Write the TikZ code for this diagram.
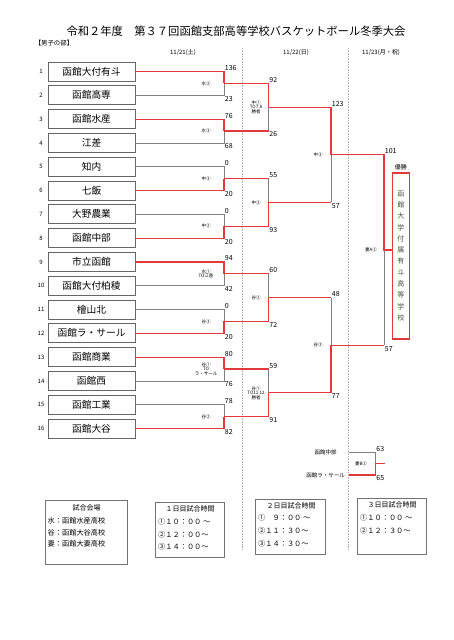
\documentclass[tikz,border=0pt]{standalone}
\usepackage{fontspec}
\setmainfont{Noto Sans CJK JP}
\usepackage{xcolor}
\usepackage{tikz}
\usetikzlibrary{positioning, calc}

\definecolor{winred}{RGB}{226,58,58}
\definecolor{losegray}{RGB}{128,128,128}
\newcommand{\fs}[1]{\fontsize{#1}{#1}\selectfont}

\begin{document}
\begin{tikzpicture}[x=1pt, y=-1pt,
    team/.style={draw=black!60, line width=0.8pt, minimum width=87pt, minimum height=19pt, inner sep=0pt, font=\fs{9.7}},
    seed/.style={font=\fs{6}, inner sep=0pt},
    win/.style={draw=winred, line width=1.2pt},
    lose/.style={draw=losegray, line width=0.7pt},
    score/.style={font=\fs{7}, inner sep=0.7pt},
    gamelbl/.style={font=\fs{4.5}, align=center, inner sep=0pt},
    infobox/.style={draw=black!55, line width=0.8pt, inner sep=0pt},
    infohd/.style={font=\fs{7}, inner sep=0pt},
    info/.style={align=left, inner sep=0pt, anchor=north west}]
  \useasboundingbox (0,0) rectangle (454,640);

  % heading
  \node[font=\fs{11.3}] (title) at (236,31) {令和２年度　第３７回函館支部高等学校バスケットボール冬季大会};
  \node[font=\fs{6.4}] (div) at (54,43) {【男子の部】};
  \node[font=\fs{6}] (day1) at (183,53) {11/21(土)};
  \node[font=\fs{6}] (day2) at (296,53) {11/22(日)};
  \node[font=\fs{6}] (day3) at (381,53) {11/23(月・祝)};
  \draw[densely dotted, black!30, line width=0.6pt] (242,48) -- (242,550);
  \draw[densely dotted, black!30, line width=0.6pt] (348,48) -- (348,550);

  % teams
  \node[team] (t1) at (91.5,71.5) {函館大付有斗};
  \node[team] (t2) at (91.5,95.3) {函館高専};
  \node[team] (t3) at (91.5,119.1) {函館水産};
  \node[team] (t4) at (91.5,142.9) {江差};
  \node[team] (t5) at (91.5,166.7) {知内};
  \node[team] (t6) at (91.5,190.5) {七飯};
  \node[team] (t7) at (91.5,214.3) {大野農業};
  \node[team] (t8) at (91.5,238.1) {函館中部};
  \node[team] (t9) at (91.5,261.9) {市立函館};
  \node[team] (t10) at (91.5,285.7) {函館大付柏稜};
  \node[team] (t11) at (91.5,309.5) {檜山北};
  \node[team] (t12) at (91.5,333.3) {函館ラ・サール};
  \node[team] (t13) at (91.5,357.1) {函館商業};
  \node[team] (t14) at (91.5,380.9) {函館西};
  \node[team] (t15) at (91.5,404.7) {函館工業};
  \node[team] (t16) at (91.5,428.5) {函館大谷};

  \node[seed] (n1) at (41,71.5) {1};
  \node[seed] (n2) at (41,95.3) {2};
  \node[seed] (n3) at (41,119.1) {3};
  \node[seed] (n4) at (41,142.9) {4};
  \node[seed] (n5) at (41,166.7) {5};
  \node[seed] (n6) at (41,190.5) {6};
  \node[seed] (n7) at (41,214.3) {7};
  \node[seed] (n8) at (41,238.1) {8};
  \node[seed] (n9) at (41,261.9) {9};
  \node[seed] (n10) at (41,285.7) {10};
  \node[seed] (n11) at (41,309.5) {11};
  \node[seed] (n12) at (41,333.3) {12};
  \node[seed] (n13) at (41,357.1) {13};
  \node[seed] (n14) at (41,380.9) {14};
  \node[seed] (n15) at (41,404.7) {15};
  \node[seed] (n16) at (41,428.5) {16};

  % bracket joints
  \coordinate (g1) at (224,83.4);
  \coordinate (g2) at (224,131.0);
  \coordinate (g3) at (224,178.6);
  \coordinate (g4) at (224,226.2);
  \coordinate (g5) at (224,273.8);
  \coordinate (g6) at (224,321.4);
  \coordinate (g7) at (224,369.0);
  \coordinate (g8) at (224,416.6);
  \coordinate (h1) at (268.5,107.2);
  \coordinate (h2) at (268.5,202.4);
  \coordinate (h3) at (268.5,297.6);
  \coordinate (h4) at (268.5,392.8);
  \coordinate (k1) at (331,154.8);
  \coordinate (k2) at (331,345.2);
  \coordinate (f) at (384,250);

  % champion
  \node[draw=winred, line width=1.2pt, minimum width=17pt, minimum height=166pt, inner sep=0pt,
        align=center, text=black!70, font=\fontsize{7}{11.3}\selectfont] (champ) at (400.8,255.9)
        {函\\館\\大\\学\\付\\属\\有\\斗\\高\\等\\学\\校};
  \node[font=\fs{6}, inner sep=0pt, above=2pt of champ] (yusho) {優勝};

  % 1st round
  \draw[lose] (t2.east) -| (g1);  \draw[win] (t1.east) -| (g1);
  \draw[lose] (t4.east) -| (g2);  \draw[win] (t3.east) -| (g2);
  \draw[lose] (t5.east) -| (g3);  \draw[win] (t6.east) -| (g3);
  \draw[lose] (t7.east) -| (g4);  \draw[win] (t8.east) -| (g4);
  \draw[lose] (t10.east) -| (g5); \draw[win] (t9.east) -| (g5);
  \draw[lose] (t11.east) -| (g6); \draw[win] (t12.east) -| (g6);
  \draw[lose] (t14.east) -| (g7); \draw[win] (t13.east) -| (g7);
  \draw[lose] (t15.east) -| (g8); \draw[win] (t16.east) -| (g8);

  % 2nd round
  \draw[lose] (g2 -| h1) -- (h1); \draw[win] (g2) -- (g2 -| h1); \draw[win] (g1) -| (h1);
  \draw[lose] (g3 -| h2) -- (h2); \draw[win] (g3) -- (g3 -| h2); \draw[win] (g4) -| (h2);
  \draw[lose] (g5 -| h3) -- (h3); \draw[win] (g5) -- (g5 -| h3); \draw[win] (g6) -| (h3);
  \draw[lose] (g7 -| h4) -- (h4); \draw[win] (g7) -- (g7 -| h4); \draw[win] (g8) -| (h4);

  % semi finals and final
  \draw[lose] (h2 -| k1) -- (k1); \draw[win] (h2) -- (h2 -| k1); \draw[win] (h1) -| (k1);
  \draw[lose] (h3 -| k2) -- (k2); \draw[win] (h3) -- (h3 -| k2); \draw[win] (h4) -| (k2);
  \draw[lose] (k2 -| f) -- (f);   \draw[win] (k2) -- (k2 -| f);   \draw[win] (k1) -| (f) -- (f -| champ.west);

  % scores
  \node[score, anchor=south west] (g1a) at (t1.east -| g1) {136};
  \node[score, anchor=north west] (g1b) at (t2.east -| g1) {23};
  \node[score, anchor=south west] (g2a) at (t3.east -| g2) {76};
  \node[score, anchor=north west] (g2b) at (t4.east -| g2) {68};
  \node[score, anchor=south west] (g3a) at (t5.east -| g3) {0};
  \node[score, anchor=north west] (g3b) at (t6.east -| g3) {20};
  \node[score, anchor=south west] (g4a) at (t7.east -| g4) {0};
  \node[score, anchor=north west] (g4b) at (t8.east -| g4) {20};
  \node[score, anchor=south west] (g5a) at (t9.east -| g5) {94};
  \node[score, anchor=north west] (g5b) at (t10.east -| g5) {42};
  \node[score, anchor=south west] (g6a) at (t11.east -| g6) {0};
  \node[score, anchor=north west] (g6b) at (t12.east -| g6) {20};
  \node[score, anchor=south west] (g7a) at (t13.east -| g7) {80};
  \node[score, anchor=north west] (g7b) at (t14.east -| g7) {76};
  \node[score, anchor=south west] (g8a) at (t15.east -| g8) {78};
  \node[score, anchor=north west] (g8b) at (t16.east -| g8) {82};
  \node[score, anchor=south west] (h1a) at (g1 -| h1) {92};
  \node[score, anchor=north west] (h1b) at (g2 -| h1) {26};
  \node[score, anchor=south west] (h2a) at (g3 -| h2) {55};
  \node[score, anchor=north west] (h2b) at (g4 -| h2) {93};
  \node[score, anchor=south west] (h3a) at (g5 -| h3) {60};
  \node[score, anchor=north west] (h3b) at (g6 -| h3) {72};
  \node[score, anchor=south west] (h4a) at (g7 -| h4) {59};
  \node[score, anchor=north west] (h4b) at (g8 -| h4) {91};
  \node[score, anchor=south west] (k1a) at (h1 -| k1) {123};
  \node[score, anchor=north west] (k1b) at (h2 -| k1) {57};
  \node[score, anchor=south west] (k2a) at (h3 -| k2) {48};
  \node[score, anchor=north west] (k2b) at (h4 -| k2) {77};
  \node[score, anchor=south west] (fa) at (k1 -| f) {101};
  \node[score, anchor=north west] (fb) at (k2 -| f) {57};

  % courts
  \node[gamelbl, xshift=-18pt] (l1) at (g1) {水②};
  \node[gamelbl, xshift=-18pt] (l2) at (g2) {水③};
  \node[gamelbl, xshift=-18pt] (l3) at (g3) {中③};
  \node[gamelbl, xshift=-18pt] (l4) at (g4) {中②};
  \node[gamelbl, xshift=-18pt] (l5) at (g5) {水①\\TO江差};
  \node[gamelbl, xshift=-18pt] (l6) at (g6) {谷③};
  \node[gamelbl, xshift=-18pt] (l7) at (g7) {谷①\\TO\\ラ・サール};
  \node[gamelbl, xshift=-18pt] (l8) at (g8) {谷②};
  \node[gamelbl, xshift=-12.5pt] (m1) at (h1) {中①\\TO7.8\\勝者};
  \node[gamelbl, xshift=-12.5pt] (m2) at (h2) {中②};
  \node[gamelbl, xshift=-12.5pt] (m3) at (h3) {谷②};
  \node[gamelbl, xshift=-12.5pt] (m4) at (h4) {谷①\\TO11.12\\勝者};
  \node[gamelbl, xshift=-13pt] (r1) at (k1) {中③};
  \node[gamelbl, xshift=-13pt] (r2) at (k2) {谷③};
  \node[gamelbl, xshift=-13pt] (fl) at (f) {妻A②};

  % extra game
  \node[font=\fs{5.5}, minimum width=47pt, inner sep=0pt] (sa) at (325.5,452) {函館中部};
  \node[font=\fs{5.5}, minimum width=47pt, inner sep=0pt] (sb) at (325.5,475) {函館ラ・サール};
  \coordinate (th) at (375.5,463.5);
  \coordinate (thend) at (385,463.5);
  \draw[lose] (sa.east) -| (th);
  \draw[win] (sb.east) -| (th) -- (thend);
  \node[score, anchor=south west] (tha) at (sa.east -| th) {63};
  \node[score, anchor=north west] (thb) at (sb.east -| th) {65};
  \node[gamelbl, xshift=-14.5pt] (thl) at (th) {妻B②};

  % info boxes
  \node[infobox, minimum width=82pt, minimum height=64pt] (venue) at (86.7,532) {};
  \node[infohd] (venuehd) at (86.7,508) {試合会場};
  \node[info, font=\fontsize{7.2}{11.6}\selectfont] (venuetx) at (47.5,517.3)
       {水：函館水産高校\\谷：函館大谷高校\\妻：函館大妻高校};

  \node[infobox, minimum width=68.3pt, minimum height=55pt] (time1) at (189.9,529.5) {};
  \node[infohd] (time1hd) at (190,509) {１日目試合時間};
  \node[info, font=\fontsize{7.2}{12.5}\selectfont] (time1tx) at (158,518.3)
       {①１０：００ ～\\②１２：００～\\③１４：００～};

  \node[infobox, minimum width=69.3pt, minimum height=55pt] (time2) at (290.4,526.5) {};
  \node[infohd] (time2hd) at (291,506) {２日目試合時間};
  \node[info, font=\fontsize{7.2}{13}\selectfont] (time2tx) at (258,514.3)
       {①　９：００ ～\\②１１：３０～\\③１４：３０～};

  \node[infobox, minimum width=69pt, minimum height=56pt] (time3) at (391.5,526) {};
  \node[infohd] (time3hd) at (392,505) {３日目試合時間};
  \node[info, font=\fontsize{7.2}{13}\selectfont] (time3tx) at (360,514.3)
       {①１０：００ ～\\②１２：３０～};
\end{tikzpicture}
\end{document}
